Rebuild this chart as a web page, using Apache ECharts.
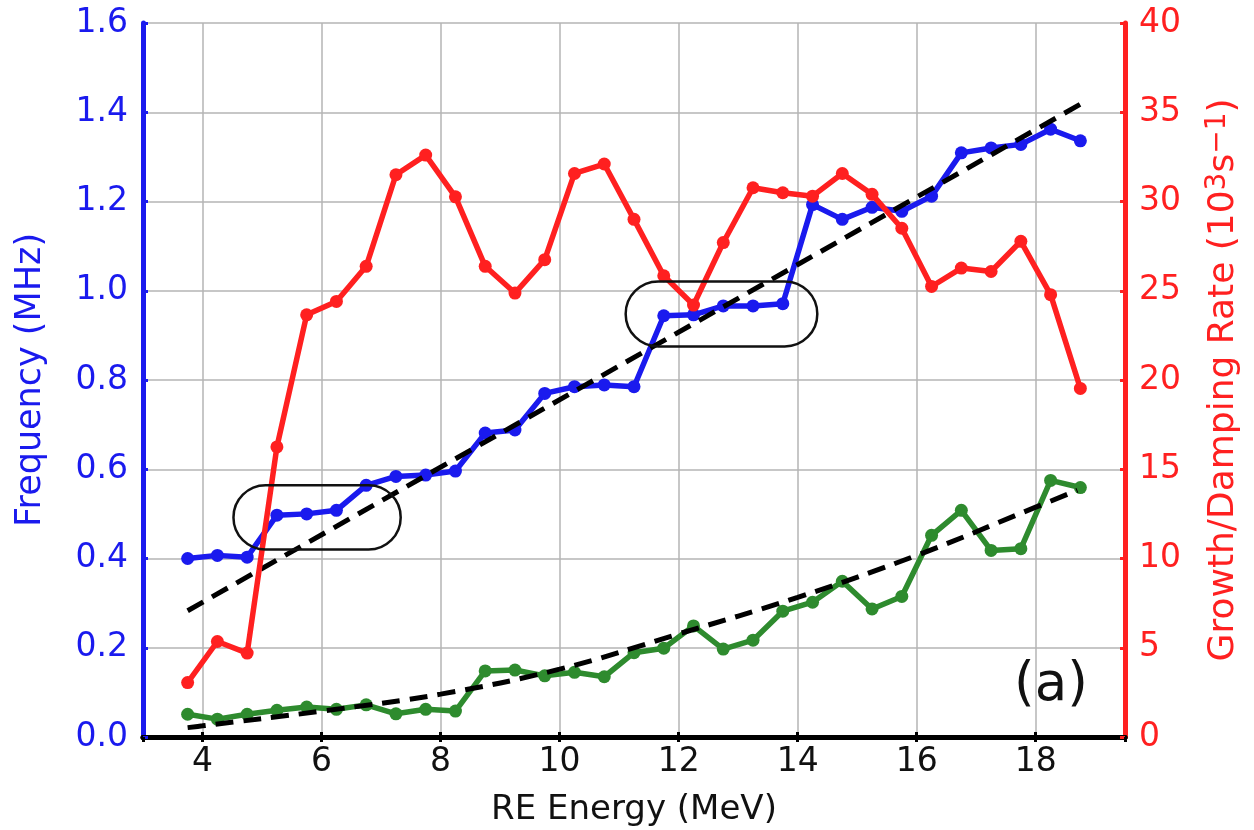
<!DOCTYPE html>
<html>
<head>
<meta charset="utf-8">
<script src="https://cdn.jsdelivr.net/npm/echarts@6/dist/echarts.min.js"></script>
<style>
html, body { margin: 0; padding: 0; background: #fff; }
#chart { width: 1254px; height: 830px; }
</style>
</head>
<body>
<div id="chart"></div>
<script>
// RE energy (MeV) of every measured point
var energy = [3.75, 4.25, 4.75, 5.25, 5.75, 6.25, 6.75, 7.25, 7.75, 8.25, 8.75, 9.25, 9.75, 10.25, 10.75, 11.25,
	11.75, 12.25, 12.75, 13.25, 13.75, 14.25, 14.75, 15.25, 15.75, 16.25, 16.75, 17.25, 17.75, 18.25, 18.75];
// frequency (MHz), left axis
var freq = [0.400, 0.407, 0.403, 0.497, 0.500, 0.508, 0.564, 0.584, 0.587, 0.596, 0.681, 0.688, 0.770, 0.785, 0.789, 0.785,
	0.944, 0.946, 0.966, 0.966, 0.971, 1.193, 1.160, 1.187, 1.178, 1.212, 1.309, 1.320, 1.328, 1.362, 1.336];
// green curve, left axis
var lowCurve = [0.051, 0.040, 0.051, 0.060, 0.067, 0.062, 0.072, 0.052, 0.062, 0.058, 0.148, 0.150, 0.137, 0.145, 0.135, 0.189,
	0.199, 0.249, 0.197, 0.217, 0.282, 0.302, 0.349, 0.287, 0.315, 0.452, 0.508, 0.418, 0.422, 0.575, 0.559];
// growth/damping rate (10^3 s^-1), right axis
var rate = [3.05, 5.35, 4.70, 16.25, 23.65, 24.4, 26.37, 31.5, 32.6, 30.26, 26.37, 24.87, 26.74, 31.57, 32.1, 29.0,
	25.84, 24.2, 27.7, 30.77, 30.49, 30.3, 31.57, 30.4, 28.5, 25.24, 26.27, 26.08, 27.77, 24.78, 19.53];
// dashed fit lines
var freqFitX = [3.75, 18.75];
var freqFitY = [0.283, 1.418];
var lowFitX = [3.75, 4, 6, 8, 10, 12, 14, 16, 18, 18.7];
var lowFitY = [0.021, 0.025, 0.058, 0.096, 0.152, 0.231, 0.313, 0.407, 0.515, 0.553];
// highlighted regions: [xMin, yMin, xMax, yMax]
var boxes = [[4.52, 0.42, 7.33, 0.564], [11.11, 0.875, 14.33, 1.021]];

var BLUE = '#1a1aee';
var RED = '#ff2020';
var GREEN = '#2e8b2e';
var FONT = 'DejaVu Sans';

function pairs(xs, ys) {
	var out = [];
	for(var i = 0; i < xs.length; i++) {
		out.push([xs[i], ys[i]]);
	}
	return out;
}

var myChart = echarts.init(document.getElementById('chart'));

var option = {
	animation: false,
	textStyle: { fontFamily: FONT },
	grid: { left: 143, right: 129, top: 23, bottom: 93, containLabel: false, outerBoundsMode: 'none' },
	xAxis: [{
		type: 'value',
		position: 'bottom',
		min: 3,
		max: 19.5,
		splitNumber: 8,
		name: 'RE Energy (MeV)',
		nameLocation: 'middle',
		nameGap: 56,
		nameTextStyle: { fontSize: 34, color: '#111', fontFamily: FONT },
		axisLine: { lineStyle: { color: '#000', width: 5 } },
		axisTick: { inside: true, length: 5, lineStyle: { color: '#000', width: 3 } },
		axisLabel: { fontSize: 33, color: '#111', margin: 9, showMinLabel: false, showMaxLabel: false, fontFamily: FONT },
		splitLine: { show: true, lineStyle: { color: '#b4b4b4', width: 1.5 } }
	}, {
		type: 'value',
		position: 'top',
		min: 3,
		max: 19.5,
		splitNumber: 8,
		axisLine: { lineStyle: { color: '#000', width: 5 } },
		axisTick: { inside: true, length: 5, lineStyle: { color: '#000', width: 3 } },
		axisLabel: { show: false },
		splitLine: { show: false }
	}],
	yAxis: [{
		type: 'value',
		position: 'left',
		min: 0,
		max: 1.6,
		interval: 0.2,
		name: 'Frequency (MHz)',
		nameLocation: 'middle',
		nameGap: 95,
		nameTextStyle: { fontSize: 35, color: BLUE, fontFamily: FONT },
		axisLine: { lineStyle: { color: BLUE, width: 5 } },
		axisTick: { inside: true, length: 5, lineStyle: { color: BLUE, width: 3 } },
		axisLabel: {
			fontSize: 33, color: BLUE, margin: 15, fontFamily: FONT,
			formatter: function(v) { return v.toFixed(1); }
		},
		splitLine: { show: true, lineStyle: { color: '#b4b4b4', width: 1.5 } }
	}, {
		type: 'value',
		position: 'right',
		min: 0,
		max: 40,
		interval: 5,
		name: 'Growth/Damping Rate (10{sup|3}s{sup|\u22121})',
		nameLocation: 'middle',
		nameGap: 79,
		nameTextStyle: {
			fontSize: 36, color: RED, fontFamily: FONT,
			rich: {
				sup: { fontSize: 28, color: RED, fontFamily: FONT, verticalAlign: 'top', padding: [0, 0, 12, 0] }
			}
		},
		axisLine: { lineStyle: { color: RED, width: 5 } },
		axisTick: { inside: true, length: 5, lineStyle: { color: RED, width: 3 } },
		axisLabel: { fontSize: 33, color: RED, margin: 14, fontFamily: FONT },
		splitLine: { show: false }
	}],
	series: [{
		name: 'frequency',
		type: 'line',
		yAxisIndex: 0,
		data: pairs(energy, freq),
		symbol: 'circle',
		symbolSize: 13,
		itemStyle: { color: BLUE },
		lineStyle: { color: BLUE, width: 5.5 },
		z: 3
	}, {
		name: 'low',
		type: 'line',
		yAxisIndex: 0,
		data: pairs(energy, lowCurve),
		symbol: 'circle',
		symbolSize: 13,
		itemStyle: { color: GREEN },
		lineStyle: { color: GREEN, width: 5.5 },
		z: 3
	}, {
		name: 'freqFit',
		type: 'line',
		yAxisIndex: 0,
		data: pairs(freqFitX, freqFitY),
		symbol: 'none',
		lineStyle: { color: '#000', width: 5, type: [18, 10] },
		z: 4
	}, {
		name: 'lowFit',
		type: 'line',
		yAxisIndex: 0,
		data: pairs(lowFitX, lowFitY),
		smooth: 0.4,
		symbol: 'none',
		lineStyle: { color: '#000', width: 5, type: [18, 10] },
		z: 4
	}, {
		name: 'rate',
		type: 'line',
		yAxisIndex: 1,
		data: pairs(energy, rate),
		symbol: 'circle',
		symbolSize: 13,
		itemStyle: { color: RED },
		lineStyle: { color: RED, width: 5.5 },
		z: 5
	}, {
		name: 'boxes',
		type: 'custom',
		yAxisIndex: 0,
		clip: false,
		encode: { x: [0, 2], y: [1, 3] },
		data: boxes,
		renderItem: function(params, api) {
			var p1 = api.coord([api.value(0), api.value(3)]);
			var p2 = api.coord([api.value(2), api.value(1)]);
			var h = p2[1] - p1[1];
			return {
				type: 'rect',
				shape: { x: p1[0], y: p1[1], width: p2[0] - p1[0], height: h, r: h / 2 },
				style: { fill: 'none', stroke: '#111', lineWidth: 2.5 }
			};
		},
		z: 6
	}],
	graphic: [{
		type: 'text',
		left: 1014,
		top: 660,
		style: { text: '(a)', fontSize: 53, fill: '#111', fontFamily: FONT }
	}]
};

myChart.setOption(option);
</script>
</body>
</html>
